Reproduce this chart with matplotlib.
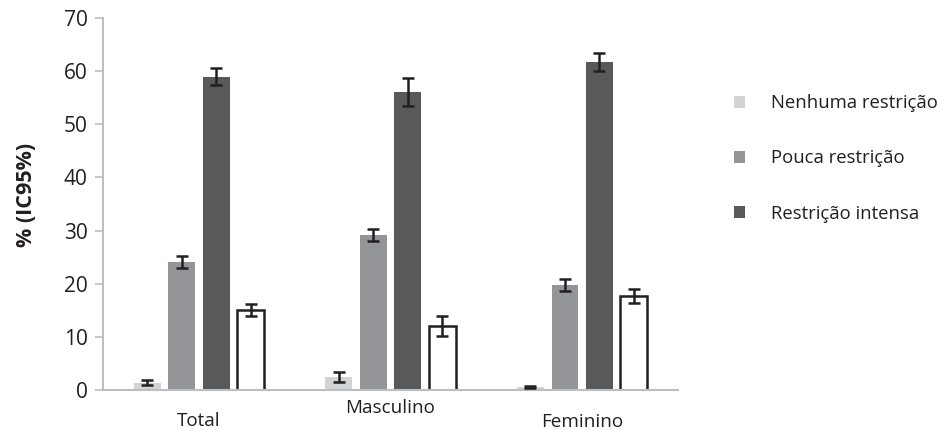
import matplotlib
matplotlib.use("Agg")
import matplotlib.pyplot as plt
import numpy as np
from matplotlib.patches import Patch

plt.rcParams['font.family'] = ['Open Sans', 'DejaVu Sans']

groups = ["Total", "Masculino", "Feminino"]
series = ["Nenhuma restrição", "Pouca restrição", "Restrição intensa", ""]
values = [
    [1.4, 2.4, 0.6],
    [24.1, 29.2, 19.8],
    [59.0, 56.1, 61.7],
    [15.1, 12.1, 17.7],
]
errors = [
    [0.4, 0.9, 0.2],
    [1.1, 1.1, 1.1],
    [1.6, 2.6, 1.7],
    [1.1, 1.9, 1.3],
]
yticks = [0, 10, 20, 30, 40, 50, 60, 70]

colors = ["#d1d3d4", "#939598", "#58595b", "#ffffff"]
edges = ["none", "none", "none", "#231f20"]
offsets = [-0.27, -0.09, 0.09, 0.27]
width = 0.14

fig = plt.figure(figsize=(9.41, 4.30), dpi=100)
ax = fig.add_axes([0.1095, 0.093, 0.611, 0.865])

x = np.arange(len(groups))
for i in range(4):
    ax.bar(x + offsets[i], values[i], width=width, color=colors[i],
           edgecolor=edges[i], linewidth=1.8 if i == 3 else 0, zorder=2)
    ax.errorbar(x + offsets[i], values[i], yerr=errors[i], fmt='none',
                ecolor="#231f20", elinewidth=1.8, capsize=4.5, capthick=1.8, zorder=3)

ax.set_xlim(-0.5, 2.5)
ax.set_ylim(0, 70)
ax.set_yticks(yticks)
ax.set_yticklabels([str(t) for t in yticks], fontsize=15, color="#231f20")
ax.tick_params(axis='y', length=6, width=1.2, color="#bcbec0", pad=5)
ax.set_xticks([])
for s in ["top", "right"]:
    ax.spines[s].set_visible(False)
for s in ["left", "bottom"]:
    ax.spines[s].set_color("#bcbec0")
    ax.spines[s].set_linewidth(1.5)

label_offsets = [-31, -18, -32]
for gi, g in enumerate(groups):
    ax.annotate(g, xy=(x[gi], 0), xycoords=('data', 'axes fraction'),
                xytext=(0, label_offsets[gi]), textcoords='offset pixels',
                ha='center', va='center', fontsize=13.6, color="#231f20")

ax.set_ylabel("% (IC95%)", fontsize=15.5, fontweight='bold', color="#231f20")
ax.yaxis.set_label_coords(-0.114, 0.524)

handles = [Patch(facecolor=colors[i], edgecolor='none') for i in range(3)]
fig.legend(handles, series[:3], loc='upper left', bbox_to_anchor=(0.762, 0.82),
           frameon=False, fontsize=13.3, handlelength=0.62, handleheight=0.62,
           labelspacing=2.02, handletextpad=1.4, labelcolor="#231f20")

fig.savefig("out.png", dpi=100)
